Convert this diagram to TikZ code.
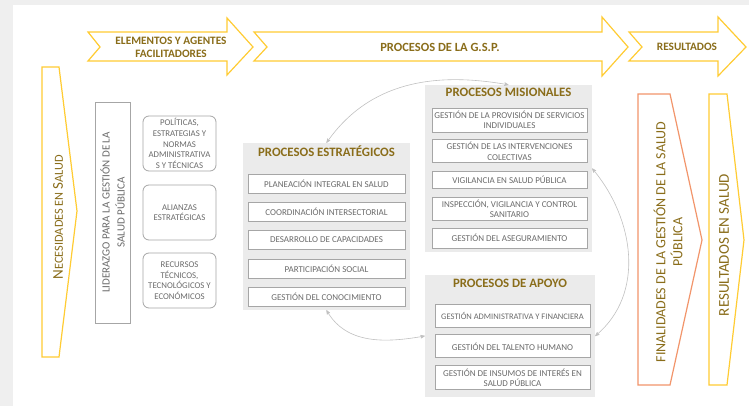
\documentclass[tikz,border=0pt]{standalone}
\usepackage{fontspec}
\setmainfont{Carlito}
\usetikzlibrary{arrows,positioning}
\definecolor{gold}{HTML}{8A6D1A}
\definecolor{chevyellow}{HTML}{FFCC33}
\definecolor{chevorange}{HTML}{F2956B}
\definecolor{boxgray}{HTML}{A6A6A6}
\definecolor{panelgray}{HTML}{EBEBEB}
\definecolor{txtgray}{HTML}{6B6B6B}
\definecolor{pagegray}{HTML}{EFEFEF}
\newcommand{\fs}[2]{\fontsize{#1}{#2}\selectfont}

\begin{document}
\begin{tikzpicture}[x=1pt,y=-1pt,node distance=8.5pt,
    chev/.style={draw=chevyellow,line width=1.2pt,line join=miter},
    toplabel/.style={text=gold,align=center,font=\fs{11.3}{13}\bfseries},
    sidelabel/.style={rotate=90,text=gold,align=center,font=\fs{14}{17}},
    lider/.style={rotate=90,draw=boxgray,line width=0.8pt,minimum width=221pt,minimum height=35pt,
                  inner sep=0pt,align=center,text=txtgray,font=\fs{11}{15}},
    facil/.style={draw=boxgray,line width=0.8pt,rounded corners=6pt,minimum width=73pt,minimum height=55pt,
                  inner sep=0pt,align=center,text=txtgray,font=\fs{8.8}{10.6}},
    panel/.style={fill=panelgray,minimum width=167pt,minimum height=167pt,inner sep=0pt},
    ptitle/.style={text=gold,font=\fs{12.8}{14}\bfseries,inner sep=0pt},
    item/.style={draw=boxgray,fill=white,line width=0.8pt,minimum width=157pt,minimum height=19pt,
                 inner sep=1.5pt,align=center,text=txtgray,font=\fs{9}{10.5}},
    link/.style={<->,>=stealth',draw=boxgray!70,line width=0.6pt}]

  % fondo de la pagina
  \fill[pagegray] (0,0) rectangle (749,406);
  \fill[white] (13,5) rectangle (749,406);
  \useasboundingbox (0,0) rectangle (749,406);

  % flechas superiores
  \draw[chev] (88,32) -- (227,32) -- (227,18) -- (253,47) -- (227,75) -- (227,61) -- (88,61) -- (100,47) -- cycle;
  \draw[chev] (254,32) -- (602,32) -- (602,17) -- (628,47) -- (602,76) -- (602,61) -- (254,61) -- (267,47) -- cycle;
  \draw[chev] (629,32) -- (718,32) -- (718,17) -- (746,47) -- (718,76) -- (718,61) -- (629,61) -- (642,47) -- cycle;
  \node[toplabel] (elem) at (171,47) {ELEMENTOS Y AGENTES\\FACILITADORES};
  \node[toplabel,font=\fs{12.5}{14}\bfseries] (gsp) at (440,47) {PROCESOS DE LA G.S.P.};
  \node[toplabel] (res) at (687,47) {RESULTADOS};

  % necesidades
  \draw[chev] (42,67) -- (59,67) -- (77,211) -- (59,357) -- (42,357) -- cycle;
  \node[sidelabel] (nec) at (58,217) {{\fs{15}{17}N}{\fs{12.3}{17}ECESIDADES EN }{\fs{15}{17}S}{\fs{12.3}{17}ALUD}};

  % elementos facilitadores
  \node[lider] (lid) at (112.5,212.5) {LIDERAZGO PARA LA GESTIÓN DE LA\\SALUD PÚBLICA};
  \node[facil] (pol) at (179.5,143.5) {POLÍTICAS,\\ESTRATEGIAS Y\\NORMAS\\ADMINISTRATIVA\\S Y TÉCNICAS};
  \node[facil] (ali) at (179.5,212.5) {ALIANZAS\\ESTRATÉGICAS};
  \node[facil] (rec) at (179.5,280.5) {RECURSOS\\TÉCNICOS,\\TECNOLÓGICOS Y\\ECONÓMICOS};

  % procesos estrategicos
  \node[panel] (estrat) at (326.5,226.5) {};
  \node[ptitle,below=3pt of estrat.north] (testrat) {PROCESOS ESTRATÉGICOS};
  \node[item] (pla) at (326.5,183.5) {PLANEACIÓN INTEGRAL EN SALUD};
  \node[item,below=of pla] (coo) {COORDINACIÓN INTERSECTORIAL};
  \node[item,below=of coo] (des) {DESARROLLO DE CAPACIDADES};
  \node[item,below=of des] (par) {PARTICIPACIÓN SOCIAL};
  \node[item,below=of par] (con) {GESTIÓN DEL CONOCIMIENTO};

  % procesos misionales
  \node[panel] (misio) at (508.5,168.5) {};
  \node[ptitle,below=3pt of misio.north] (tmisio) {PROCESOS MISIONALES};
  \node[item,minimum width=155pt,minimum height=24pt] (prov) at (509.5,120) {GESTIÓN DE LA PROVISIÓN DE SERVICIOS\\INDIVIDUALES};
  \node[item,minimum width=155pt,minimum height=23pt,below=7pt of prov] (inter) {GESTIÓN DE LAS INTERVENCIONES\\COLECTIVAS};
  \node[item,minimum width=155pt,minimum height=17pt,below=8pt of inter] (vig) {VIGILANCIA EN SALUD PÚBLICA};
  \node[item,minimum width=155pt,minimum height=23pt,below=8pt of vig] (insp) {INSPECCIÓN, VIGILANCIA Y CONTROL\\SANITARIO};
  \node[item,minimum width=155pt,minimum height=20pt,below=7pt of insp] (ase) {GESTIÓN DEL ASEGURAMIENTO};

  % procesos de apoyo
  \node[panel,minimum width=170pt,minimum height=122pt] (apoyo) at (510,336) {};
  \node[ptitle,below=4pt of apoyo.north] (tapoyo) {PROCESOS DE APOYO};
  \node[item,minimum width=155pt,minimum height=23pt,inner xsep=0pt,font=\fs{8.5}{10}] (adm) at (512.5,315.5) {GESTIÓN ADMINISTRATIVA Y FINANCIERA};
  \node[item,minimum width=155pt,minimum height=23pt,below=7pt of adm] (tal) {GESTIÓN DEL TALENTO HUMANO};
  \node[item,minimum width=155pt,minimum height=24pt,below=7pt of tal] (ins) {GESTIÓN DE INSUMOS DE INTERÉS EN\\SALUD PÚBLICA};

  % relaciones entre procesos
  \draw[link] (estrat.north) to[out=55,in=170] (misio.north);
  \draw[link] (estrat.south) to[out=-60,in=190] (apoyo.west);
  \draw[link] (misio.east) to[out=-50,in=40] (apoyo.east);

  % resultados
  \draw[chev,draw=chevorange] (638,94) -- (670,94) -- (702,240) -- (670,385) -- (638,385) -- cycle;
  \node[sidelabel] (fin) at (668,242) {FINALIDADES DE LA GESTIÓN DE LA SALUD\\PÚBLICA};
  \draw[chev] (709,94) -- (727,94) -- (744,240) -- (727,385) -- (709,385) -- cycle;
  \node[sidelabel,font=\fs{15}{17}] (rsal) at (724,245) {RESULTADOS EN SALUD};
\end{tikzpicture}
\end{document}
